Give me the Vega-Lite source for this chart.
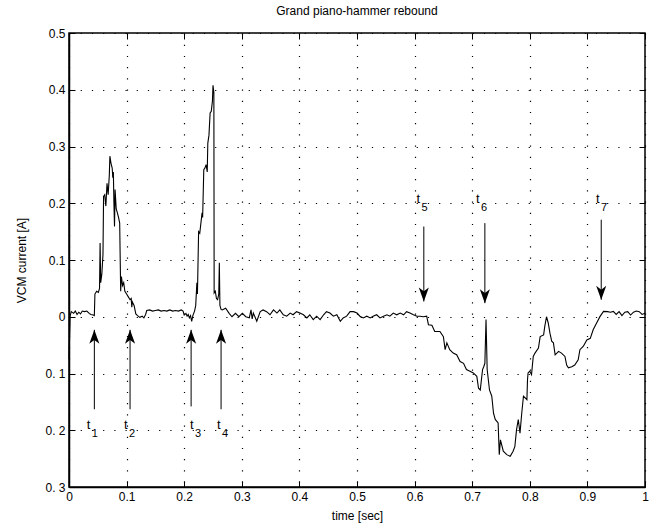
{
  "$schema": "https://vega.github.io/schema/vega-lite/v6.json",
  "width": 576,
  "height": 454,
  "autosize": "none",
  "padding": {"left": 69, "top": 33, "right": 9, "bottom": 38},
  "config": {
    "font": "Liberation Sans",
    "view": {"stroke": "black", "strokeWidth": 1.5},
    "axis": {
      "domainColor": "black", "domainWidth": 1.5,
      "tickColor": "black", "tickWidth": 1, "tickSize": -6,
      "labelColor": "black", "labelFontSize": 12, "labelFont": "Liberation Sans",
      "titleColor": "black", "titleFontSize": 12, "titleFontWeight": "normal", "titleFont": "Liberation Sans",
      "gridColor": "#000", "gridDash": [1.2, 10], "gridWidth": 1.2, "gridOpacity": 1
    }
  },
  "title": {"text": "Grand piano-hammer rebound", "fontSize": 12, "fontWeight": "normal", "font": "Liberation Sans", "color": "black", "offset": 9},
  "datasets": {
    "signal": [
      {"t":0,"v":-0.075},{"t":0.002,"v":0.002},{"t":0.004,"v":0.009},{"t":0.008,"v":0.006},{"t":0.011,"v":0.010},{"t":0.014,"v":0.004},{"t":0.017,"v":0.008},{"t":0.020,"v":0.005},{"t":0.023,"v":0.010},{"t":0.027,"v":0.009},{"t":0.031,"v":0.010},{"t":0.035,"v":0.006},{"t":0.038,"v":0.004},{"t":0.042,"v":0.003},{"t":0.044,"v":0.002},
      {"t":0.045,"v":0.040},{"t":0.048,"v":0.045},{"t":0.051,"v":0.043},{"t":0.053,"v":0.050},{"t":0.054,"v":0.130},{"t":0.055,"v":0.060},{"t":0.057,"v":0.075},{"t":0.059,"v":0.110},{"t":0.060,"v":0.212},{"t":0.062,"v":0.215},{"t":0.064,"v":0.195},{"t":0.066,"v":0.235},{"t":0.068,"v":0.215},{"t":0.070,"v":0.250},{"t":0.071,"v":0.283},{"t":0.073,"v":0.270},{"t":0.075,"v":0.262},{"t":0.076,"v":0.245},{"t":0.077,"v":0.255},{"t":0.078,"v":0.200},{"t":0.079,"v":0.159},{"t":0.080,"v":0.224},{"t":0.082,"v":0.190},{"t":0.084,"v":0.183},{"t":0.086,"v":0.175},{"t":0.088,"v":0.165},
      {"t":0.0897,"v":0.045},{"t":0.091,"v":0.071},{"t":0.093,"v":0.055},{"t":0.095,"v":0.060},{"t":0.097,"v":0.045},{"t":0.100,"v":0.040},{"t":0.103,"v":0.035},{"t":0.106,"v":0.030},{"t":0.108,"v":0.032},{"t":0.109,"v":0.017},{"t":0.110,"v":0.026},{"t":0.113,"v":0.020},{"t":0.116,"v":0.005},{"t":0.119,"v":0.002},{"t":0.123,"v":-0.001},{"t":0.127,"v":0.001},{"t":0.130,"v":-0.002},{"t":0.133,"v":0.004},{"t":0.135,"v":0.011},
      {"t":0.140,"v":0.012},{"t":0.145,"v":0.010},{"t":0.150,"v":0.011},{"t":0.155,"v":0.012},{"t":0.160,"v":0.010},{"t":0.165,"v":0.011},{"t":0.170,"v":0.010},{"t":0.175,"v":0.012},{"t":0.180,"v":0.010},{"t":0.185,"v":0.011},{"t":0.190,"v":0.010},{"t":0.195,"v":0.012},{"t":0.198,"v":0.010},
      {"t":0.200,"v":0.003},{"t":0.203,"v":0.006},{"t":0.205,"v":0.001},{"t":0.207,"v":0.004},{"t":0.209,"v":-0.002},{"t":0.211,"v":0.002},{"t":0.213,"v":-0.008},{"t":0.215,"v":0.002},{"t":0.218,"v":0.010},{"t":0.220,"v":0.020},{"t":0.222,"v":0.060},{"t":0.223,"v":0.040},{"t":0.225,"v":0.150},{"t":0.227,"v":0.147},{"t":0.229,"v":0.165},{"t":0.231,"v":0.183},{"t":0.232,"v":0.175},{"t":0.234,"v":0.259},{"t":0.236,"v":0.262},{"t":0.238,"v":0.268},{"t":0.240,"v":0.255},{"t":0.241,"v":0.306},{"t":0.243,"v":0.320},{"t":0.245,"v":0.359},{"t":0.247,"v":0.362},{"t":0.249,"v":0.380},{"t":0.250,"v":0.408},{"t":0.2515,"v":0.395},
      {"t":0.252,"v":0.042},{"t":0.254,"v":0.045},{"t":0.256,"v":0.032},{"t":0.258,"v":0.030},{"t":0.260,"v":0.040},{"t":0.261,"v":0.095},{"t":0.262,"v":0.020},{"t":0.264,"v":0.013},{"t":0.266,"v":0.012},{"t":0.272,"v":0.015},{"t":0.278,"v":0.006},{"t":0.283,"v":0.0},{"t":0.289,"v":0.006},{"t":0.295,"v":0.0},{"t":0.301,"v":0.006},{"t":0.307,"v":0.0},{"t":0.313,"v":-0.002},{"t":0.316,"v":0.012},{"t":0.318,"v":-0.004},
      {"t":0.320,"v":0.0065},{"t":0.326,"v":-0.008},{"t":0.332,"v":0.009},{"t":0.337,"v":0.012},{"t":0.343,"v":0.009},{"t":0.349,"v":0.0035},{"t":0.355,"v":0.012},{"t":0.361,"v":0.0065},{"t":0.366,"v":0.012},{"t":0.372,"v":0.0035},{"t":0.378,"v":0.001},{"t":0.384,"v":0.0065},{"t":0.389,"v":0.0035},{"t":0.395,"v":0.009},{"t":0.401,"v":0.0065},{"t":0.407,"v":0.0035},{"t":0.413,"v":-0.002},{"t":0.418,"v":0.0035},{"t":0.424,"v":-0.005},{"t":0.430,"v":0.001},{"t":0.436,"v":-0.005},{"t":0.442,"v":0.0035},{"t":0.447,"v":0.009},{"t":0.453,"v":0.0065},{"t":0.459,"v":0.001},{"t":0.465,"v":0.0035},{"t":0.471,"v":-0.008},{"t":0.476,"v":-0.002},{"t":0.482,"v":0.001},{"t":0.488,"v":0.009},{"t":0.494,"v":0.009},{"t":0.500,"v":0.0065},{"t":0.505,"v":0.001},{"t":0.511,"v":-0.002},{"t":0.517,"v":0.001},{"t":0.523,"v":-0.002},{"t":0.528,"v":0.001},{"t":0.534,"v":0.0035},{"t":0.540,"v":-0.002},{"t":0.546,"v":0.001},{"t":0.552,"v":0.0035},{"t":0.557,"v":0.001},{"t":0.563,"v":0.0065},{"t":0.569,"v":0.0035},{"t":0.575,"v":0.0065},{"t":0.581,"v":0.0035},{"t":0.586,"v":0.009},{"t":0.592,"v":0.0065},{"t":0.598,"v":0.0035},{"t":0.604,"v":0.001},{"t":0.610,"v":0.001},{"t":0.615,"v":0.0},{"t":0.621,"v":0.001},
      {"t":0.624,"v":-0.014},{"t":0.630,"v":-0.015},{"t":0.635,"v":-0.026},{"t":0.644,"v":-0.026},{"t":0.650,"v":-0.035},{"t":0.653,"v":-0.058},{"t":0.656,"v":-0.046},{"t":0.661,"v":-0.058},{"t":0.667,"v":-0.064},{"t":0.673,"v":-0.067},{"t":0.679,"v":-0.079},{"t":0.685,"v":-0.082},{"t":0.690,"v":-0.093},{"t":0.696,"v":-0.096},{"t":0.702,"v":-0.099},{"t":0.708,"v":-0.105},{"t":0.711,"v":-0.126},{"t":0.714,"v":-0.129},{"t":0.716,"v":-0.111},{"t":0.718,"v":-0.093},{"t":0.720,"v":-0.088},{"t":0.722,"v":-0.082},{"t":0.724,"v":-0.005},{"t":0.726,"v":-0.093},{"t":0.730,"v":-0.129},{"t":0.734,"v":-0.140},{"t":0.737,"v":-0.170},{"t":0.740,"v":-0.181},{"t":0.745,"v":-0.187},{"t":0.747,"v":-0.243},{"t":0.749,"v":-0.217},{"t":0.754,"v":-0.237},{"t":0.760,"v":-0.243},{"t":0.766,"v":-0.246},{"t":0.771,"v":-0.237},{"t":0.774,"v":-0.229},{"t":0.777,"v":-0.199},{"t":0.780,"v":-0.181},{"t":0.783,"v":-0.205},{"t":0.786,"v":-0.170},{"t":0.789,"v":-0.140},{"t":0.795,"v":-0.146},{"t":0.796,"v":-0.111},{"t":0.797,"v":-0.099},{"t":0.800,"v":-0.096},{"t":0.803,"v":-0.102},{"t":0.806,"v":-0.070},{"t":0.809,"v":-0.064},{"t":0.815,"v":-0.055},{"t":0.818,"v":-0.035},{"t":0.824,"v":-0.032},{"t":0.826,"v":-0.017},{"t":0.829,"v":0.0},{"t":0.832,"v":-0.011},{"t":0.835,"v":-0.029},{"t":0.838,"v":-0.043},{"t":0.841,"v":-0.046},{"t":0.844,"v":-0.067},{"t":0.850,"v":-0.061},{"t":0.855,"v":-0.064},{"t":0.861,"v":-0.070},{"t":0.864,"v":-0.085},{"t":0.867,"v":-0.090},{"t":0.873,"v":-0.088},{"t":0.878,"v":-0.085},{"t":0.884,"v":-0.076},{"t":0.887,"v":-0.058},{"t":0.893,"v":-0.052},{"t":0.899,"v":-0.041},{"t":0.905,"v":-0.038},{"t":0.910,"v":-0.023},{"t":0.916,"v":-0.011},{"t":0.922,"v":0.0006},{"t":0.928,"v":0.0094},{"t":0.935,"v":0.009},{"t":0.940,"v":0.008},{"t":0.945,"v":0.0094},{"t":0.950,"v":0.004},{"t":0.955,"v":0.009},{"t":0.960,"v":0.002},{"t":0.965,"v":0.008},{"t":0.970,"v":0.009},{"t":0.975,"v":0.003},{"t":0.980,"v":0.008},{"t":0.985,"v":0.010},{"t":0.990,"v":0.009},{"t":0.995,"v":0.004},{"t":1.0,"v":0.006}
    ],
    "arrows": [
      {"n":"1","t":0.044,"v0":-0.163,"v1":-0.023,"dir":"up","lx":0.031,"ly":-0.197},
      {"n":"2","t":0.106,"v0":-0.163,"v1":-0.023,"dir":"up","lx":0.0955,"ly":-0.197},
      {"n":"3","t":0.212,"v0":-0.158,"v1":-0.023,"dir":"up","lx":0.210,"ly":-0.197},
      {"n":"4","t":0.264,"v0":-0.163,"v1":-0.023,"dir":"up","lx":0.257,"ly":-0.197},
      {"n":"5","t":0.616,"v0":0.159,"v1":0.027,"dir":"down","lx":0.6035,"ly":0.201},
      {"n":"6","t":0.722,"v0":0.165,"v1":0.024,"dir":"down","lx":0.7066,"ly":0.201},
      {"n":"7","t":0.924,"v0":0.171,"v1":0.030,"dir":"down","lx":0.915,"ly":0.201}
    ]
  },
  "resolve": {"axis": {"x": "independent", "y": "independent"}},
  "layer": [
    {
      "data": {"name": "signal"},
      "mark": {"type": "line", "color": "black", "strokeWidth": 1.1, "interpolate": "linear"},
      "encoding": {
        "x": {"field": "t", "type": "quantitative", "scale": {"domain": [0, 1], "nice": false, "zero": false},
              "axis": {"orient": "bottom", "title": "time [sec]", "values": [0,0.1,0.2,0.3,0.4,0.5,0.6,0.7,0.8,0.9,1], "grid": true, "labelPadding": 10, "titlePadding": 8, "labelExpr": "format(datum.value, '~g')", "labelFlush": false}},
        "y": {"field": "v", "type": "quantitative", "scale": {"domain": [-0.3, 0.5], "nice": false, "zero": false},
              "axis": {"orient": "left", "title": "VCM current [A]", "values": [-0.3,-0.2,-0.1,0,0.1,0.2,0.3,0.4,0.5], "grid": true, "labelPadding": 10, "titlePadding": 16, "labelExpr": "datum.value < -0.0001 ? replace(format(-datum.value, '.1f'), '.', '. ') : format(datum.value, '~g')", "labelFlush": false}}
      }
    },
    {
      "data": {"name": "arrows"},
      "mark": {"type": "rule", "color": "black", "strokeWidth": 1},
      "encoding": {
        "x": {"field": "t", "type": "quantitative", "axis": {"orient": "top", "labels": false, "title": null, "grid": false, "domain": false, "values": [0,0.1,0.2,0.3,0.4,0.5,0.6,0.7,0.8,0.9,1]}},
        "y": {"field": "v0", "type": "quantitative", "axis": {"orient": "right", "labels": false, "title": null, "grid": false, "domain": false, "values": [-0.3,-0.2,-0.1,0,0.1,0.2,0.3,0.4,0.5]}},
        "y2": {"field": "v1"}
      }
    },
    {
      "data": {"name": "arrows"},
      "transform": [{"filter": "datum.dir == 'up'"}],
      "mark": {"type": "point", "filled": true, "color": "black", "opacity": 1, "size": 784, "shape": "M0,0L0.36,1L0,0.72L-0.36,1Z"},
      "encoding": {
        "x": {"field": "t", "type": "quantitative", "axis": null},
        "y": {"field": "v1", "type": "quantitative", "axis": null}
      }
    },
    {
      "data": {"name": "arrows"},
      "transform": [{"filter": "datum.dir == 'down'"}],
      "mark": {"type": "point", "filled": true, "color": "black", "opacity": 1, "size": 784, "shape": "M0,0L0.36,-1L0,-0.72L-0.36,-1Z"},
      "encoding": {
        "x": {"field": "t", "type": "quantitative", "axis": null},
        "y": {"field": "v1", "type": "quantitative", "axis": null}
      }
    },
    {
      "data": {"name": "arrows"},
      "mark": {"type": "text", "text": "t", "align": "left", "baseline": "alphabetic", "fontSize": 13, "font": "Liberation Sans", "color": "black"},
      "encoding": {
        "x": {"field": "lx", "type": "quantitative", "axis": null},
        "y": {"field": "ly", "type": "quantitative", "axis": null}
      }
    },
    {
      "data": {"name": "arrows"},
      "mark": {"type": "text", "align": "left", "baseline": "alphabetic", "fontSize": 11, "font": "Liberation Sans", "color": "black", "dx": 5, "dy": 8},
      "encoding": {
        "x": {"field": "lx", "type": "quantitative", "axis": null},
        "y": {"field": "ly", "type": "quantitative", "axis": null},
        "text": {"field": "n"}
      }
    }
  ]
}
